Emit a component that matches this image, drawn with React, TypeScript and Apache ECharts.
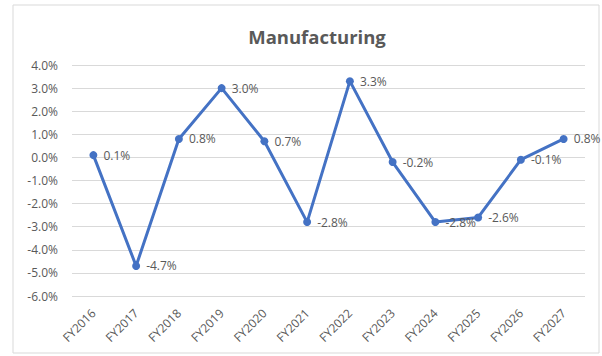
import React, { useEffect, useRef } from "react";
import * as echarts from "echarts";

const categories = ["FY2016", "FY2017", "FY2018", "FY2019", "FY2020", "FY2021", "FY2022", "FY2023", "FY2024", "FY2025", "FY2026", "FY2027"];
const values = [0.1, -4.7, 0.8, 3.0, 0.7, -2.8, 3.3, -0.2, -2.8, -2.6, -0.1, 0.8];
const title = "Manufacturing";

export default function App() {
  const ref = useRef<HTMLDivElement>(null);
  useEffect(() => {
    if (!ref.current) return;
    const chart = echarts.init(ref.current, null, { renderer: "svg" });
    const font = "'Open Sans', 'DejaVu Sans', sans-serif";
    chart.setOption({
      animation: false,
      backgroundColor: "#ffffff",
      graphic: [
        {
          type: "rect",
          shape: { x: 13, y: 5, width: 586, height: 348 },
          style: { fill: "none", stroke: "#d9d9d9", lineWidth: 1 },
          silent: true,
        },
        {
          type: "text",
          x: 317,
          y: 36,
          style: {
            text: title,
            align: "center",
            verticalAlign: "middle",
            fontSize: 18.5,
            fontWeight: "bold",
            fill: "#595959",
            fontFamily: font,
          },
          silent: true,
        },
      ],
      grid: { left: 72, right: 17, top: 65, bottom: 60, containLabel: false },
      xAxis: {
        type: "category",
        data: categories,
        boundaryGap: true,
        axisLine: { show: false },
        axisTick: { show: false },
        axisLabel: { rotate: 45, color: "#595959", fontSize: 12, fontFamily: font, margin: 15, interval: 0 },
      },
      yAxis: {
        type: "value",
        min: -6,
        max: 4,
        interval: 1,
        axisLine: { show: false },
        axisTick: { show: false },
        splitLine: { lineStyle: { color: "#d9d9d9", width: 1 } },
        axisLabel: {
          color: "#595959",
          fontSize: 12,
          fontFamily: font,
          margin: 14,
          formatter: (v: number) => v.toFixed(1) + "%",
        },
      },
      series: [
        {
          type: "line",
          data: values,
          symbol: "circle",
          symbolSize: 8,
          lineStyle: { color: "#4472C4", width: 3 },
          itemStyle: { color: "#4472C4" },
          label: {
            show: true,
            position: "right",
            distance: 6,
            color: "#595959",
            fontSize: 12,
            fontFamily: font,
            formatter: (p: any) => Number(p.value).toFixed(1) + "%",
          },
        },
      ],
    });
    return () => chart.dispose();
  }, []);
  return <div ref={ref} style={{ position: "fixed", left: 0, top: 0, width: 602, height: 356 }} />;
}
